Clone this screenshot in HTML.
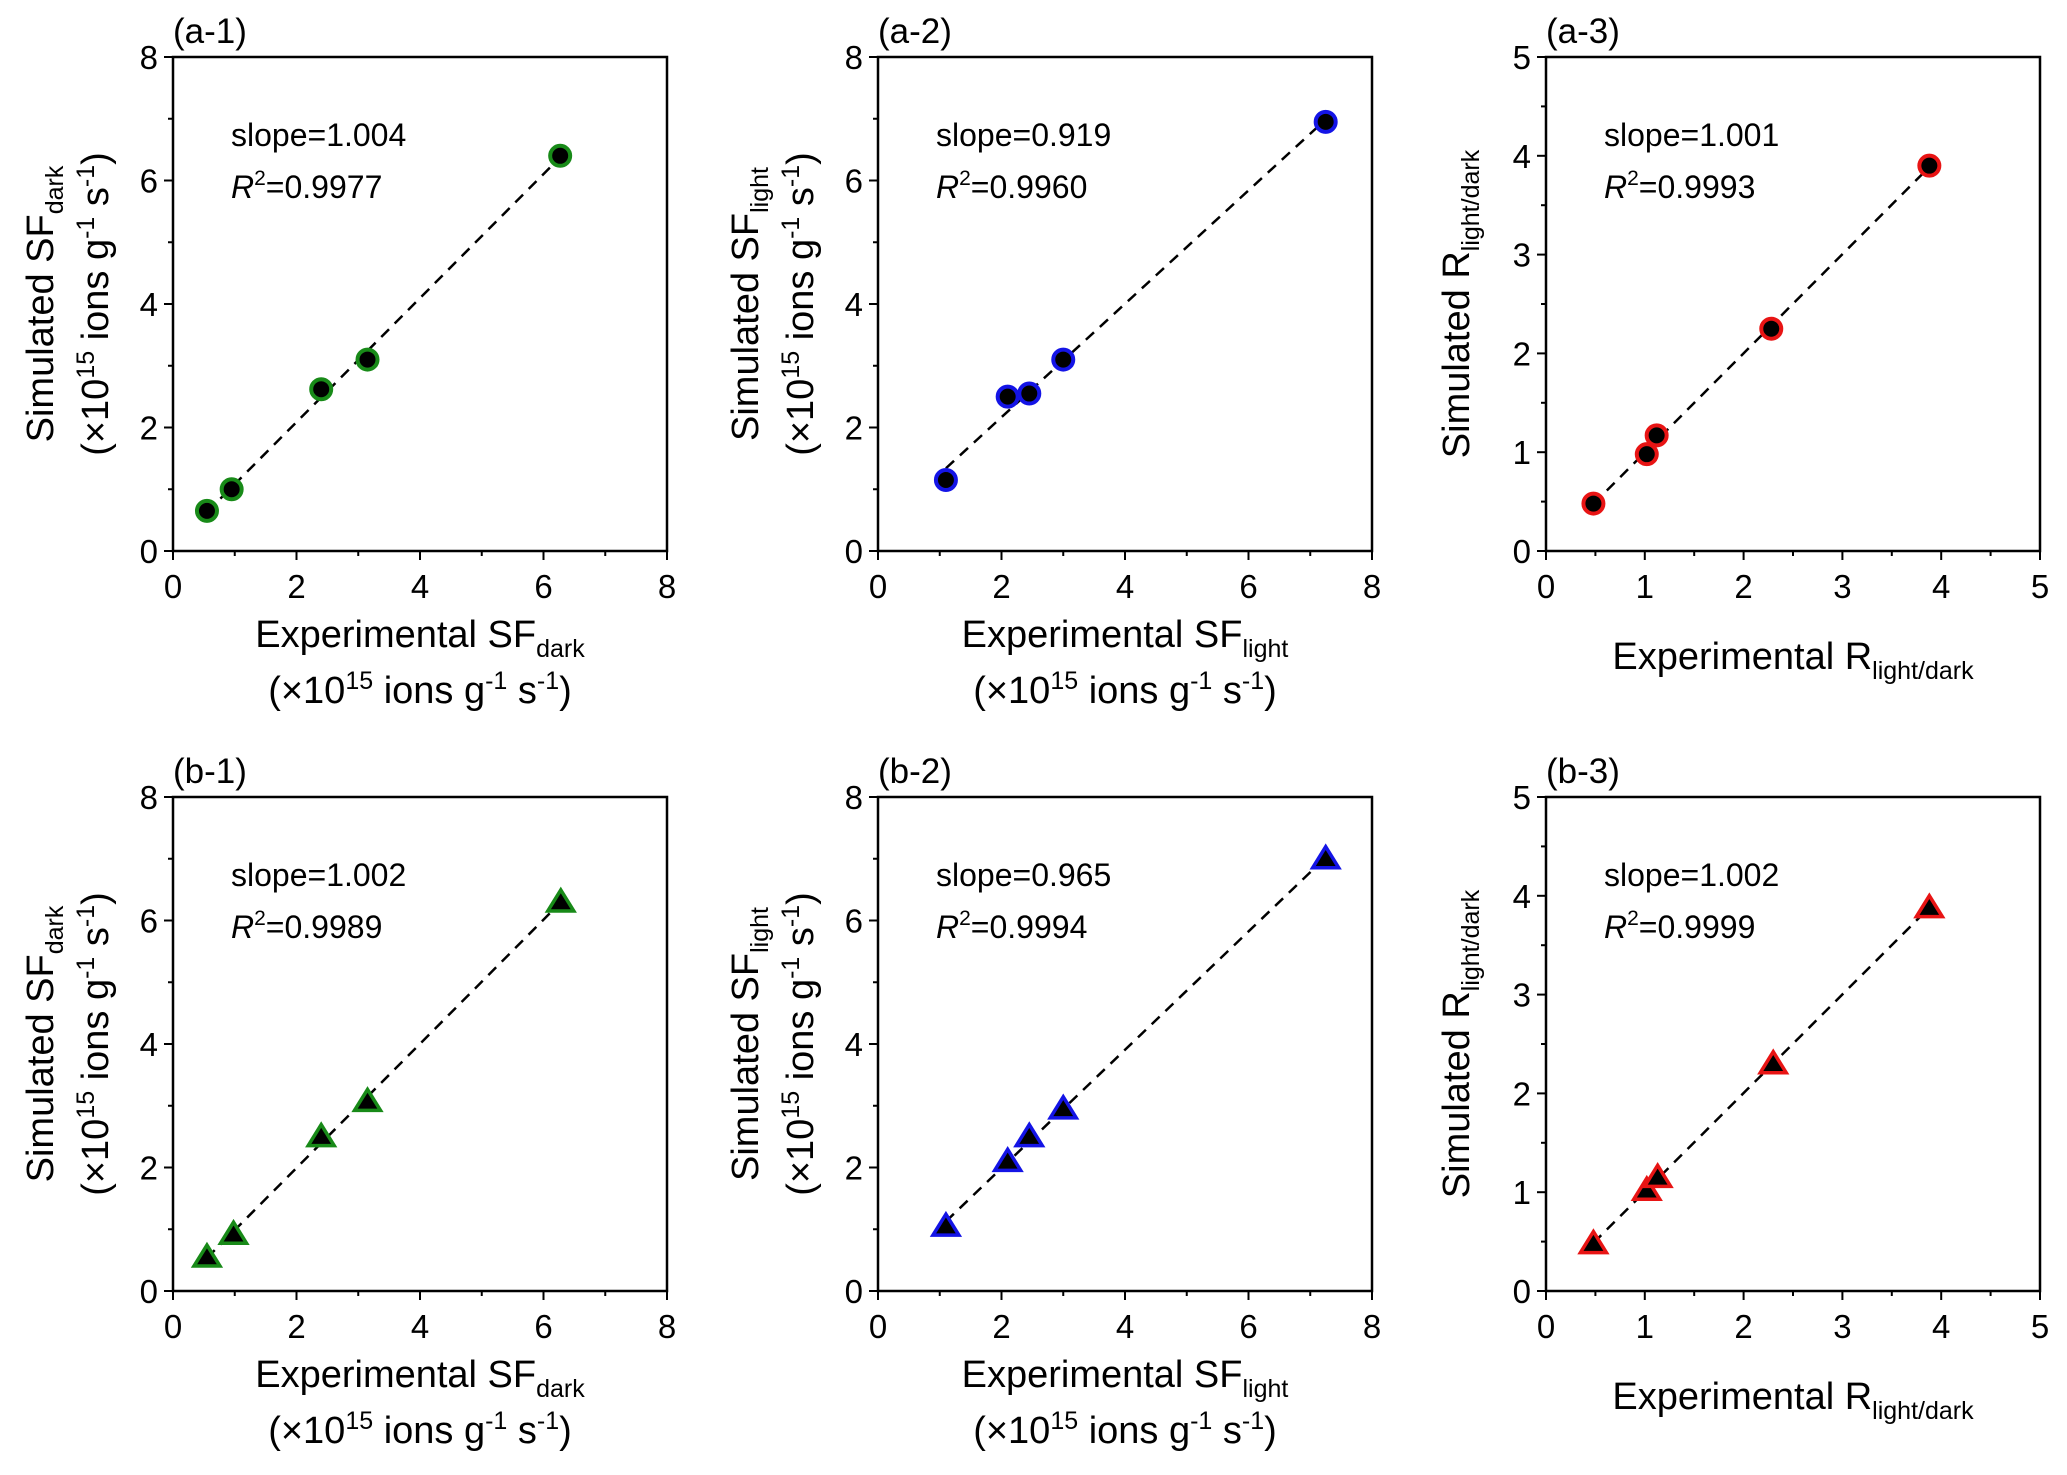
<!DOCTYPE html>
<html><head><meta charset="utf-8"><style>
html,body{margin:0;padding:0;background:#fff;}
svg{display:block;font-family:"Liberation Sans",Arial,sans-serif;}
</style></head><body>
<svg id="fig" width="2067" height="1475" viewBox="0 0 2067 1475" xmlns="http://www.w3.org/2000/svg"></svg>
<script>
// ---- data ----
const a1X=[0.55,0.95,2.4,3.15,6.27];
const a1Y=[0.65,1.0,2.62,3.1,6.4];
const a2X=[1.1,2.1,2.45,3.0,7.25];
const a2Y=[1.15,2.5,2.55,3.1,6.95];
const a3X=[0.48,1.02,1.12,2.28,3.88];
const a3Y=[0.48,0.98,1.17,2.25,3.9];
const b1X=[0.55,0.98,2.4,3.15,6.28];
const b1Y=[0.55,0.92,2.5,3.07,6.3];
const b2X=[1.1,2.1,2.45,3.0,7.25];
const b2Y=[1.05,2.1,2.5,2.95,7.0];
const b3X=[0.48,1.02,1.13,2.3,3.88];
const b3Y=[0.48,1.02,1.15,2.3,3.88];
const ticks8=[0,2,4,6,8];
const ticks5=[0,1,2,3,4,5];
const slopes=["1.004","0.919","1.001","1.002","0.965","1.002"];
const r2s=["0.9977","0.9960","0.9993","0.9989","0.9994","0.9999"];
const labels=["(a-1)","(a-2)","(a-3)","(b-1)","(b-2)","(b-3)"];

const NS="http://www.w3.org/2000/svg";
const svg=document.getElementById('fig');
function el(tag,attrs,parent){const e=document.createElementNS(NS,tag);for(const k in attrs)e.setAttribute(k,attrs[k]);(parent||svg).appendChild(e);return e;}

const panels=[
 {x:a1X,y:a1Y,L:173,T:57,max:8,ticks:ticks8,col:"#188a18",shape:"c",q:"SF",sub:"dark",two:true},
 {x:a2X,y:a2Y,L:878,T:57,max:8,ticks:ticks8,col:"#1414e6",shape:"c",q:"SF",sub:"light",two:true},
 {x:a3X,y:a3Y,L:1546,T:57,max:5,ticks:ticks5,col:"#e81414",shape:"c",q:"R",sub:"light/dark",two:false},
 {x:b1X,y:b1Y,L:173,T:797,max:8,ticks:ticks8,col:"#188a18",shape:"t",q:"SF",sub:"dark",two:true},
 {x:b2X,y:b2Y,L:878,T:797,max:8,ticks:ticks8,col:"#1414e6",shape:"t",q:"SF",sub:"light",two:true},
 {x:b3X,y:b3Y,L:1546,T:797,max:5,ticks:ticks5,col:"#e81414",shape:"t",q:"R",sub:"light/dark",two:false}
];
const W=494,H=494;

panels.forEach((p,i)=>{
  const g=el('g',{});
  
  
  const sx=v=>p.L+v/p.max*W, sy=v=>p.T+H-v/p.max*H;
  const frame=el('rect',{x:p.L,y:p.T,width:W,height:H,fill:'none',stroke:'#000','stroke-width':2.5},g);
  
  
  const step=p.ticks[1]-p.ticks[0];
  for(let v=0;v<=p.max+1e-9;v+=step/2){
    const major=Math.abs(v/step-Math.round(v/step))<1e-6;
    const len=major?9:5;
    el('line',{x1:sx(v),x2:sx(v),y1:p.T+H,y2:p.T+H+len,stroke:'#000','stroke-width':2},g);
    el('line',{x1:p.L,x2:p.L-len,y1:sy(v),y2:sy(v),stroke:'#000','stroke-width':2},g);
  }
  p.ticks.forEach(v=>{
    const tx=el('text',{x:sx(v),y:p.T+H+47,'font-size':33,'text-anchor':'middle'},g);tx.textContent=v;
    
    
    const ty=el('text',{x:p.L-15,y:sy(v)+12,'font-size':33,'text-anchor':'end'},g);ty.textContent=v;
    
    
  });
  const n=p.x.length;let mx=0,my=0;for(let k=0;k<n;k++){mx+=p.x[k];my+=p.y[k];}mx/=n;my/=n;
  let sxy=0,sxx=0;for(let k=0;k<n;k++){sxy+=(p.x[k]-mx)*(p.y[k]-my);sxx+=(p.x[k]-mx)**2;}
  const m=sxy/sxx,b=my-m*mx;const x0=Math.min(...p.x),x1=Math.max(...p.x);
  const fl=el('line',{x1:sx(x0),y1:sy(m*x0+b),x2:sx(x1),y2:sy(m*x1+b),stroke:'#000','stroke-width':2.5,'stroke-dasharray':'11 8'},g);
  
  
  for(let k=0;k<n;k++){
    const cx=sx(p.x[k]),cy=sy(p.y[k]);let mk;
    if(p.shape==='c') mk=el('circle',{cx:cx,cy:cy,r:10,fill:'#000',stroke:p.col,'stroke-width':4},g);
    else mk=el('polygon',{points:`${cx-13},${cy+9} ${cx+13},${cy+9} ${cx},${cy-12}`,fill:'#000',stroke:p.col,'stroke-width':3.5,'stroke-linejoin':'miter'},g);
    
    
  }
  const s=el('text',{x:p.L+58,y:p.T+89,'font-size':32},g);s.textContent='slope='+slopes[i];
  
  
  const r=el('text',{x:p.L+58,y:p.T+141,'font-size':32},g);
  r.innerHTML='<tspan font-style="italic">R</tspan><tspan font-size="21" dy="-13">2</tspan><tspan dy="13">='+r2s[i]+'</tspan>';
  
  
  const pl=el('text',{x:p.L,y:p.T-14,'font-size':35},g);pl.textContent=labels[i];
  
  
  const cx=p.L+W/2, cy=p.T+H/2;
  const unit='(×10<tspan font-size="25" dy="-14">15</tspan><tspan dy="14"> ions g</tspan><tspan font-size="25" dy="-14">-1</tspan><tspan dy="14"> s</tspan><tspan font-size="25" dy="-14">-1</tspan><tspan dy="14">)</tspan>';
  const xt=el('text',{x:cx,y:p.T+H+(p.two?96:118),'font-size':38,'text-anchor':'middle'},g);
  xt.innerHTML='Experimental '+p.q+'<tspan font-size="25" dy="10">'+p.sub+'</tspan>';
  
  
  const yx=p.two?p.L-133:p.L-90;
  const yt=el('text',{x:0,y:0,'font-size':38,'text-anchor':'middle',transform:`translate(${yx+13},${cy}) rotate(-90)`},g);
  yt.innerHTML='Simulated '+p.q+'<tspan font-size="25" dy="10">'+p.sub+'</tspan>';
  
  
  if(p.two){
    const xu=el('text',{x:cx,y:p.T+H+152,'font-size':38,'text-anchor':'middle'},g);xu.innerHTML=unit;
    
    
    const yu=el('text',{x:0,y:0,'font-size':38,'text-anchor':'middle',transform:`translate(${p.L-65},${cy}) rotate(-90)`},g);yu.innerHTML=unit;
    
    
  }
});
</script>
</body></html>
